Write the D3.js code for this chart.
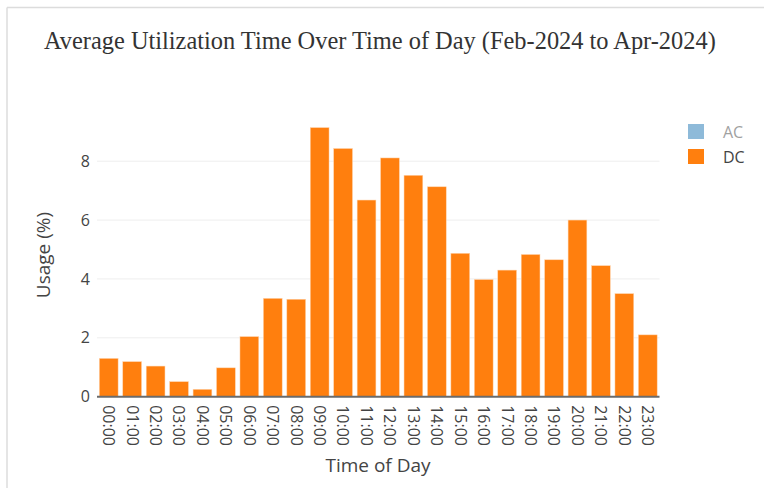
<!DOCTYPE html>
<html>
<head>
<meta charset="utf-8">
<script src="https://cdn.jsdelivr.net/npm/d3@7"></script>
<style>
  body { margin: 0; background: #fff; }
  svg { display: block; }
</style>
</head>
<body>
<div id="chart"></div>
<script>

var hours = ['00:00','01:00','02:00','03:00','04:00','05:00','06:00','07:00','08:00','09:00','10:00','11:00',
             '12:00','13:00','14:00','15:00','16:00','17:00','18:00','19:00','20:00','21:00','22:00','23:00'];
var dcUsage = [1.30, 1.19, 1.04, 0.51, 0.25, 0.98, 2.04, 3.34, 3.31, 9.14, 8.43, 6.68,
               8.11, 7.52, 7.13, 4.87, 3.98, 4.30, 4.83, 4.65, 6.00, 4.45, 3.50, 2.10];
var yTicks = [0, 2, 4, 6, 8];
var legendItems = ['AC', 'DC'];

var W = 764, H = 488;
var plot = {left: 97, right: 659.5, top: 113.5, bottom: 396.7};

var svg = d3.select("#chart")
    .append("svg")
      .attr("width", W)
      .attr("height", H)
      .style("font-family", "'Open Sans', sans-serif");

// frame lines (top / left) from the screenshot
svg.append("line").attr("x1", 7).attr("x2", W).attr("y1", 7.5).attr("y2", 7.5)
    .attr("stroke", "#dcdcdc").attr("stroke-width", 1.5);
svg.append("line").attr("x1", 7).attr("x2", 7).attr("y1", 7.5).attr("y2", H)
    .attr("stroke", "#dcdcdc").attr("stroke-width", 1.5);

var x = d3.scaleBand().domain(hours).range([plot.left, plot.right])
    .paddingInner(0.2).paddingOuter(0.1);
var y = d3.scaleLinear().domain([0, 9.62]).range([plot.bottom, plot.top]);

// grid
svg.append("g")
  .selectAll("line")
  .data(yTicks.filter(function(d){ return d > 0; }))
  .enter()
  .append("line")
    .attr("x1", plot.left).attr("x2", plot.right)
    .attr("y1", function(d){ return y(d); })
    .attr("y2", function(d){ return y(d); })
    .attr("stroke", "#eeeeee").attr("stroke-width", 1);

// bars
svg.append("g")
  .selectAll("rect")
  .data(dcUsage)
  .enter()
  .append("rect")
    .attr("x", function(d,i){ return x(hours[i]); })
    .attr("y", function(d){ return y(d); })
    .attr("width", x.bandwidth())
    .attr("height", function(d){ return y(0) - y(d); })
    .attr("fill", "#ff7f0e")
    .attr("stroke", "#ffd2aa")
    .attr("stroke-width", 0.5);

// zero line
svg.append("line")
    .attr("x1", plot.left).attr("x2", plot.right)
    .attr("y1", y(0)).attr("y2", y(0))
    .attr("stroke", "#6b6b6b").attr("stroke-width", 2);

// y axis
var yAxis = svg.append("g")
    .attr("transform", "translate(" + plot.left + ",0)")
    .call(d3.axisLeft(y).tickValues(yTicks).tickSize(0).tickPadding(7));
yAxis.select(".domain").remove();
yAxis.selectAll("text")
    .attr("fill", "#444")
    .style("font-size", "16px")
    .style("font-family", "'Open Sans', sans-serif");

// x axis
var xAxis = svg.append("g")
    .attr("transform", "translate(0," + plot.bottom + ")")
    .call(d3.axisBottom(x).tickSize(0).tickPadding(0));
xAxis.select(".domain").remove();
xAxis.selectAll("text")
    .attr("fill", "#444")
    .style("font-size", "16px")
    .style("font-family", "'Open Sans', sans-serif")
    .attr("text-anchor", "start")
    .attr("transform", "rotate(90)")
    .attr("x", 8.5)
    .attr("y", 0)
    .attr("dy", "0.35em");

// axis titles
svg.append("text")
    .attr("x", 378)
    .attr("y", 472)
    .attr("text-anchor", "middle")
    .attr("fill", "#444")
    .style("font-size", "19px")
    .text("Time of Day");

svg.append("text")
    .attr("transform", "translate(50," + 255 + ") rotate(-90)")
    .attr("text-anchor", "middle")
    .attr("fill", "#444")
    .style("font-size", "19px")
    .text("Usage (%)");

// title
svg.append("text")
    .attr("x", 44)
    .attr("y", 49)
    .attr("fill", "#333")
    .style("font-family", "'Liberation Serif', 'Times New Roman', serif")
    .style("font-size", "24.4px")
    .text("Average Utilization Time Over Time of Day (Feb-2024 to Apr-2024)");

// legend (AC trace hidden, shown faded)
var legend = svg.append("g").attr("transform", "translate(688,124)");
var li = legend.selectAll("g")
    .data(legendItems)
    .enter()
    .append("g")
      .attr("transform", function(d,i){ return "translate(0," + (i * 25) + ")"; })
      .attr("opacity", function(d){ return d === 'AC' ? 0.5 : 1; });
li.append("rect")
    .attr("width", 16).attr("height", 15)
    .attr("fill", function(d){ return d === 'AC' ? "#1f77b4" : "#ff7f0e"; });
li.append("text")
    .attr("x", 35)
    .attr("y", 13.5)
    .attr("fill", "#444")
    .style("font-size", "16px")
    .text(function(d){ return d; });

</script>
</body>
</html>
